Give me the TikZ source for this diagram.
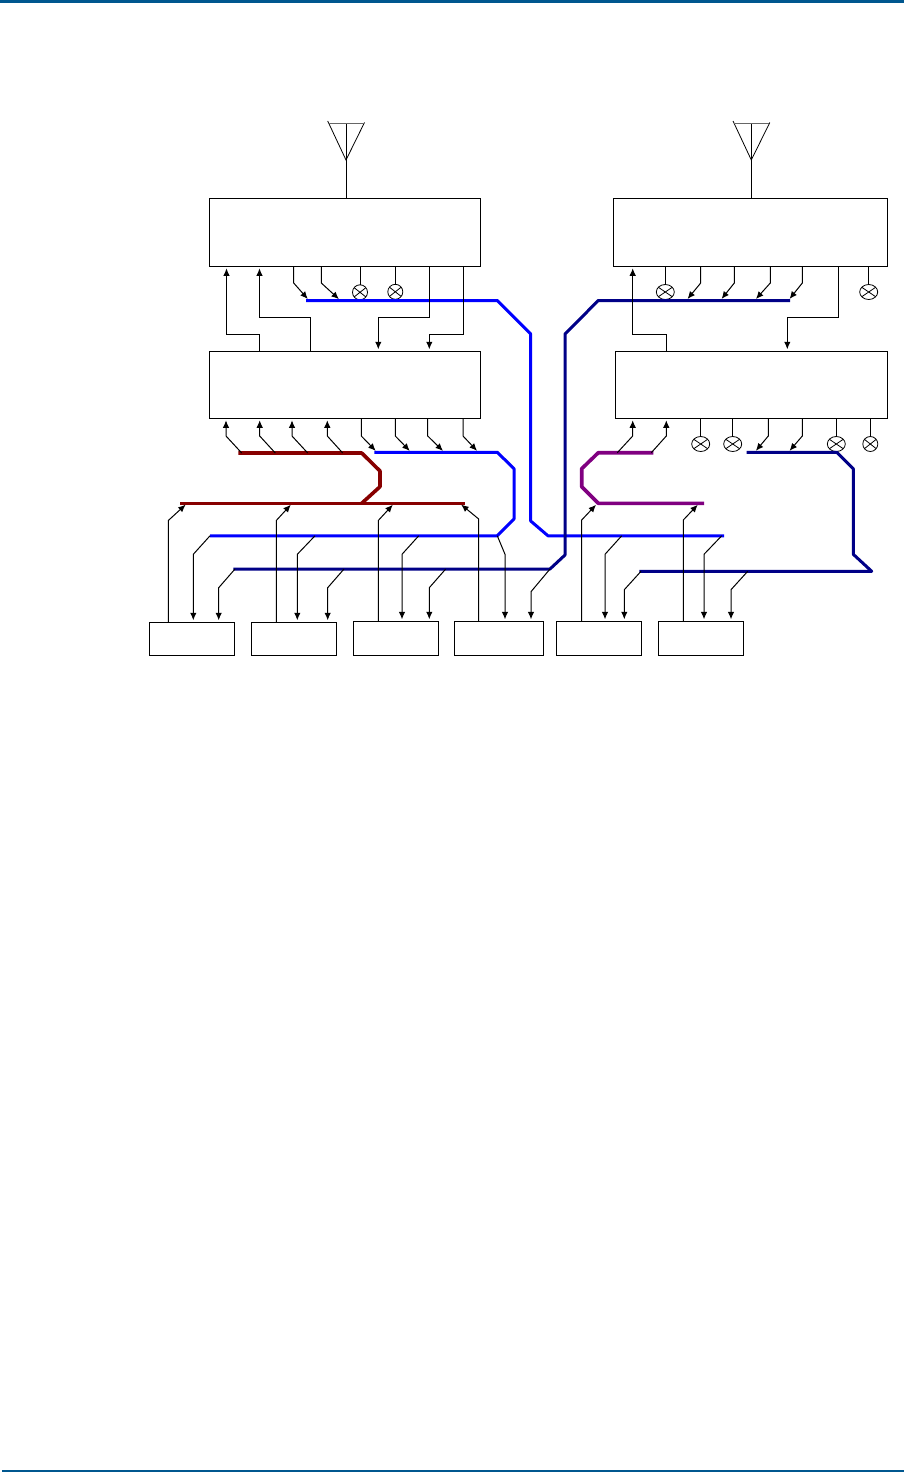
\documentclass[tikz,border=0pt]{standalone}
\usepackage{xcolor}
\usepackage{tikz}
\usetikzlibrary{shapes,arrows.meta,positioning,calc}
\definecolor{pageBlue}{RGB}{0,87,143}
\definecolor{busBlue}{RGB}{0,0,255}
\definecolor{busNavy}{RGB}{0,0,135}
\definecolor{busRed}{RGB}{135,0,0}
\definecolor{busPurple}{RGB}{128,0,128}

\begin{document}
\begin{tikzpicture}[
    x=1pt, y=-1pt,
    box/.style={rectangle, draw, line width=1pt, inner sep=0pt, outer sep=0pt},
    smallbox/.style={box, minimum width=85pt},
    arrow/.style={-{Latex[length=7.5pt,width=6.5pt]}, line width=1pt, shorten >=2pt},
    wire/.style={line width=1pt},
    mixer/.style={ellipse, draw, line width=0.8pt, inner sep=0pt, outer sep=0pt, minimum width=15pt, minimum height=15pt,
        path picture={\draw[line width=0.8pt] ([xshift=-2pt]path picture bounding box.north west) -- ([xshift=2pt]path picture bounding box.south east)
            ([xshift=2pt]path picture bounding box.north east) -- ([xshift=-2pt]path picture bounding box.south west);}},
    widemixer/.style={mixer, minimum width=18pt},
    bus/.style={line width=3pt, line join=round}
]
    \useasboundingbox (0,0) rectangle (904,1472);

    % Page rules
    \fill[pageBlue] (0,0) rectangle (904,3);
    \fill[pageBlue] (2,1470) rectangle (904,1472);

    % Main blocks
    \node[box, minimum width=271pt, minimum height=68pt] (boxA) at (344.8,232.3) {};
    \node[box, minimum width=271pt, minimum height=67pt] (boxB) at (344.8,384.8) {};
    \node[box, minimum width=274.4pt, minimum height=68pt] (boxC) at (750.5,232.3) {};
    \node[box, minimum width=272.4pt, minimum height=67pt] (boxD) at (751.5,384.8) {};

    % Lower blocks
    \node[smallbox, minimum height=33pt] (unit1) at (191.8,638.8) {};
    \node[smallbox, minimum height=33pt] (unit2) at (293.8,638.8) {};
    \node[smallbox, minimum height=34pt] (unit3) at (395.8,638.3) {};
    \node[box, minimum width=89pt, minimum height=34pt] (unit4) at (498.8,638.3) {};
    \node[smallbox, minimum height=34pt] (unit5) at (598.8,638.3) {};
    \node[smallbox, minimum height=34pt] (unit6) at (700.8,638.3) {};

    % Antennas
    \foreach \x/\n in {346/boxA, 751.3/boxC} {
        \draw[wire] (\n.north -| \x,0) -- (\x,123);
        \draw[line width=0.8pt] (\x-18.3,121) -- (\x,160) -- (\x+18.5,122.5);
        \draw[line width=0.7pt, black!60] (\x-17,123) -- (\x+18,123);
    }

    % Mixers
    \node[mixer] (mixA1) at (360,292.3) {};
    \node[mixer] (mixA2) at (395.3,291.8) {};
    \node[widemixer] (mixC1) at (665.3,292) {};
    \node[widemixer] (mixC2) at (868.7,292) {};
    \node[widemixer] (mixD1) at (700.7,444) {};
    \node[widemixer] (mixD2) at (732.7,444) {};
    \node[widemixer] (mixD3) at (836.3,444) {};
    \node[mixer] (mixD4) at (870.3,444) {};
    \foreach \m/\n in {mixA1/boxA, mixA2/boxA, mixC1/boxC, mixC2/boxC, mixD1/boxD, mixD2/boxD, mixD3/boxD, mixD4/boxD}
        \draw[wire] (\m.north) -- (\m |- \n.south);

    % Bus anchors
    \coordinate (blueTop) at (306,300.5);
    \coordinate (blueMid) at (374.3,452.3);
    \coordinate (blueLow) at (210,535.8);
    \coordinate (blueRight) at (548,535.8);
    \coordinate (navyTop) at (790,300.5);
    \coordinate (navyLow) at (233.3,569);
    \coordinate (navyMid) at (746.7,452.3);
    \coordinate (navyRight) at (639.3,571.3);
    \coordinate (redTop) at (238.3,453);
    \coordinate (redLow) at (180,503.3);
    \coordinate (purpleTop) at (653.3,452.7);
    \coordinate (purpleLow) at (704,503.3);

    % Buses
    \draw[bus, busBlue] (blueTop) -- (497.3,300.5) -- (530.7,334) -- (530.7,521) -- (blueRight) -- (724,535.8);
    \draw[bus, busBlue] (blueMid) -- (497.3,452.3) -- (514,468.7) -- (514,519) -- (497.3,535.8) -- (blueLow);
    \draw[bus, busNavy] (navyTop) -- (598.3,300.5) -- (565,334) -- (565,555) -- (550,569) -- (navyLow);
    \draw[bus, busNavy] (navyMid) -- (836.7,452.3) -- (853.3,468.7) -- (853.3,554.3) -- (871.7,571.3) -- (navyRight);
    \draw[bus, busRed, line width=3.6pt] (redTop) -- (361.7,453) -- (380,471) -- (380,486.7) -- (361.7,503.3);
    \draw[bus, busRed, line width=3.6pt] (redLow) -- (465,503.3);
    \draw[bus, busPurple, line width=3.6pt] (purpleTop) -- (598.3,452.7) -- (581.7,468.7) -- (581.7,486.7) -- (598.3,503.3) -- (purpleLow);

    % Links between the main blocks
    \draw[arrow] (boxB.north -| 259.5,0) -- (259.5,334.3) -- (226.5,334.3) -- (boxA.south -| 226.5,0);
    \draw[arrow] (boxB.north -| 310.3,0) -- (310.3,317.3) -- (259.5,317.3) -- (boxA.south -| 259.5,0);
    \draw[arrow] (boxA.south -| 429.3,0) -- (429.3,317.3) -- (378.3,317.3) -- (boxB.north -| 378.3,0);
    \draw[arrow] (boxA.south -| 463.3,0) -- (463.3,334.3) -- (429.3,334.3) -- (boxB.north -| 429.3,0);
    \draw[arrow] (boxD.north -| 666.7,0) -- (666.7,334.3) -- (632.7,334.3) -- (boxC.south -| 632.7,0);
    \draw[arrow] (boxC.south -| 838.3,0) -- (838.3,317.3) -- (787.3,317.3) -- (boxD.north -| 787.3,0);

    % Block outputs onto the buses
    \foreach \x/\e in {293.7/309.1, 321.3/340.4}
        \draw[arrow] (boxA.south -| \x,0) -- (\x,283) -- (blueTop -| \e,0);
    \foreach \x/\e in {700.7/686.3, 734.3/720.3, 770.3/754.6, 802.3/788.3}
        \draw[arrow] (boxC.south -| \x,0) -- (\x,283) -- (navyTop -| \e,0);
    \foreach \x/\e in {361.3/377.1, 395.3/411.1, 427.7/444.4, 463/478.4}
        \draw[arrow] (boxB.south -| \x,0) -- (\x,436) -- (blueMid -| \e,0);
    \foreach \x/\e in {768.3/754.6, 802.3/788.3}
        \draw[arrow] (boxD.south -| \x,0) -- (\x,436) -- (navyMid -| \e,0);

    % Buses into the blocks above
    \foreach \s/\x in {241.7/226, 275.3/259.7, 307.7/292, 342.7/327.3}
        \draw[arrow] (redTop -| \s,0) -- (\x,436) -- (boxB.south -| \x,0);
    \foreach \s/\x in {617.3/632.7, 651.3/666.3}
        \draw[arrow] (purpleTop -| \s,0) -- (\x,436) -- (boxD.south -| \x,0);

    % Lower blocks up to the buses
    \foreach \n/\x/\e in {unit1/168.3/187.1, unit2/276.3/292.1, unit3/378.3/394.1}
        \draw[arrow] (\n.north -| \x,0) -- (\x,520.5) -- (redLow -| \e,0);
    \draw[arrow] (unit4.north -| 478.7,0) -- (478.7,519) -- (redLow -| 459.6,0);
    \foreach \n/\x/\e in {unit5/581.7/597.4, unit6/683.3/699.1}
        \draw[arrow] (\n.north -| \x,0) -- (\x,520) -- (purpleLow -| \e,0);

    % Buses down to the lower blocks
    \foreach \s/\x/\n in {210/193.3/unit1, 315/297.3/unit2, 418.7/402/unit3, 497.3/505/unit4}
        \draw[arrow] (blueLow -| \s,0) -- (\x,554.3) -- (\n.north -| \x,0);
    \foreach \s/\x/\n in {621.7/605/unit5, 721.7/704/unit6}
        \draw[arrow] (blueRight -| \s,0) -- (\x,554.3) -- (\n.north -| \x,0);
    \foreach \s/\x/\n in {235/218.7/unit1, 344/327.7/unit2, 445.7/429.3/unit3}
        \draw[arrow] (navyLow -| \s,0) -- (\x,587.7) -- (\n.north -| \x,0);
    \draw[arrow] (navyLow -| 550,0) -- (531,591.7) -- (unit4.north -| 531,0);
    \foreach \s/\x/\n in {641/624.3/unit5, 747.7/731/unit6}
        \draw[arrow] (navyRight -| \s,0) -- (\x,589.7) -- (\n.north -| \x,0);
\end{tikzpicture}
\end{document}
